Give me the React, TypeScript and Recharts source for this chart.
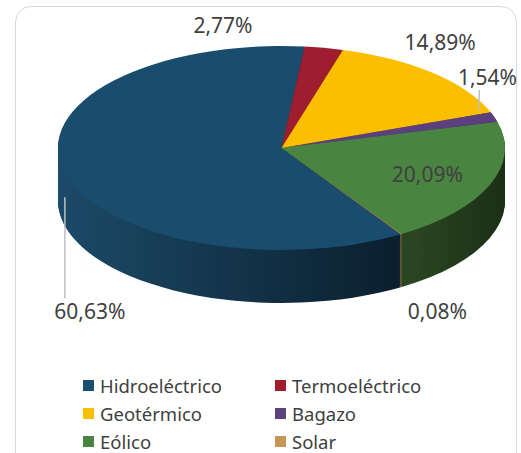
import { PieChart, Pie, Cell } from "recharts";

const SOURCES = ["Hidroeléctrico", "Termoeléctrico", "Geotérmico", "Bagazo", "Eólico", "Solar"];
const SHARES = [60.63, 2.77, 14.89, 1.54, 20.09, 0.08];
const SHARE_LABELS = ["60,63%", "2,77%", "14,89%", "1,54%", "20,09%", "0,08%"];

const TOP_COLORS = ["#1a4c6d", "#9e1d2e", "#fbbf00", "#5b3f7e", "#4a8441", "#c2924f"];
const SIDE_LIGHT = ["#1c4a68", "#6e1420", "#b08600", "#3f2c58", "#2a4521", "#8a6a3a"];
const SIDE_DARK = ["#08161f", "#3e0b12", "#6a5000", "#231832", "#1b2f15", "#5a4526"];
const LEGEND_COLORS = ["#1a4d6e", "#a01d2e", "#fbbf00", "#5d437d", "#4a8441", "#c59654"];

// label offsets from the rim point (screen px); null = inside the slice
const LABEL_NUDGE: ([number, number] | null)[] = [[26, 140], [-101, -23], [7, -31], [-7, -40], null, [36, 77]];
const LEADERS: ([number, number, number, number] | null)[] = [[1, 26, 1, 127], null, null, [-15, -27, -16, -7], null, null];

const W = 521;
const CX = 281.5;
const R = 223.5;
const SCALE = 102 / 223.5; // ellipse squash
const CY = 148 / SCALE;
const DEPTH = 53 / SCALE;
const LAYERS = 60;
const START = -57.7;
const RAD = Math.PI / 180;

const data = SOURCES.map((name, i) => ({ name, value: SHARES[i] }));

function renderLabel(props: any) {
  const { cx, cy, midAngle, index } = props;
  const cos = Math.cos(-midAngle * RAD);
  const sin = Math.sin(-midAngle * RAD);
  const nudge = LABEL_NUDGE[index];
  let tx: number;
  let ty: number;
  const ex = cx + R * cos;
  const ey = (cy + R * sin) * SCALE;
  if (nudge) {
    tx = ex + nudge[0];
    ty = ey + nudge[1];
  } else {
    tx = cx + R * 0.7 * cos;
    ty = (cy + R * 0.7 * sin) * SCALE;
  }
  const lead = LEADERS[index];
  return (
    <g key={`lbl-${index}`} transform={`scale(1, ${1 / SCALE})`}>
      {lead && (
        <line
          x1={ex + lead[0]}
          y1={ey + lead[1]}
          x2={ex + lead[2]}
          y2={ey + lead[3]}
          stroke="#bfbfbf"
          strokeWidth={1.5}
        />
      )}
      <text
        x={tx}
        y={ty}
        textAnchor="middle"
        dominantBaseline="central"
        fontFamily="'Noto Sans', sans-serif"
        fontSize={21}
        fill="#404040"
      >
        {SHARE_LABELS[index]}
      </text>
    </g>
  );
}

export default function App() {
  const layers = Array.from({ length: LAYERS }, (_, k) => LAYERS - k);
  return (
    <div
      style={{
        position: "absolute",
        left: 0,
        top: 0,
        width: W,
        height: 453,
        overflow: "hidden",
        background: "#fff",
        fontFamily: "'Noto Sans', sans-serif",
      }}
    >
      <div
        style={{
          position: "absolute",
          left: 15,
          top: 6,
          width: 500,
          height: 460,
          border: "1.5px solid #d9d9d9",
          borderRadius: 16,
        }}
      />
      <div
        style={{
          position: "absolute",
          left: 0,
          top: 0,
          width: W,
          height: 720,
          transform: `scaleY(${SCALE})`,
          transformOrigin: "0 0",
        }}
      >
        <PieChart width={W} height={720} margin={{ top: 0, right: 0, bottom: 0, left: 0 }}>
          <defs>
            {SOURCES.map((s, i) => (
              <linearGradient
                key={s}
                id={`side-${i}`}
                gradientUnits="userSpaceOnUse"
                x1={CX - R}
                y1={0}
                x2={CX + R}
                y2={0}
              >
                <stop offset="0" stopColor={SIDE_LIGHT[i]} />
                <stop offset="0.8" stopColor={i === 0 ? "#0a1d2b" : SIDE_LIGHT[i]} />
                <stop offset="1" stopColor={SIDE_DARK[i]} />
              </linearGradient>
            ))}
          </defs>
          {layers.map((k) => (
            <Pie
              key={`side-${k}`}
              data={data}
              dataKey="value"
              cx={CX}
              cy={CY + (DEPTH * k) / LAYERS}
              outerRadius={R}
              startAngle={START}
              endAngle={START - 360}
              stroke="none"
              label={false}
              labelLine={false}
              isAnimationActive={false}
            >
              {data.map((d, i) => (
                <Cell key={d.name} fill={`url(#side-${i})`} stroke="none" />
              ))}
            </Pie>
          ))}
          <Pie
            data={data}
            dataKey="value"
            cx={CX}
            cy={CY}
            outerRadius={R}
            startAngle={START}
            endAngle={START - 360}
            stroke="none"
            label={renderLabel}
            labelLine={false}
            isAnimationActive={false}
          >
            {data.map((d, i) => (
              <Cell key={d.name} fill={TOP_COLORS[i]} stroke="none" />
            ))}
          </Pie>
        </PieChart>
      </div>
      <div
        style={{
          position: "absolute",
          left: 83,
          top: 371,
          display: "grid",
          gridTemplateColumns: "192px 200px",
          rowGap: 0,
          fontSize: 18.5,
          color: "#404040",
        }}
      >
        {SOURCES.map((s, i) => (
          <div key={s} style={{ display: "flex", alignItems: "center", height: 28 }}>
            <span
              style={{
                display: "inline-block",
                width: 11,
                height: 11,
                background: LEGEND_COLORS[i],
                marginRight: 6,
              }}
            />
            <span>{s}</span>
          </div>
        ))}
      </div>
    </div>
  );
}
